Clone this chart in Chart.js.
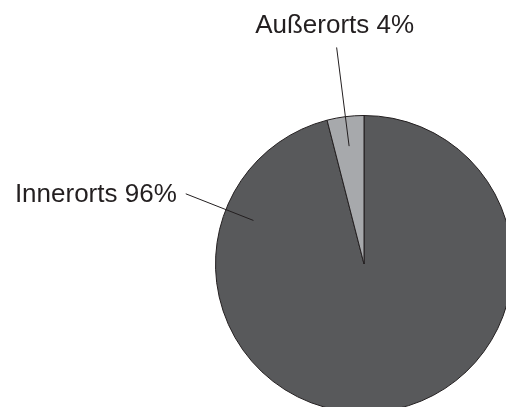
<!DOCTYPE html>
<html>
<head>
<meta charset="utf-8">
<script src="https://cdn.jsdelivr.net/npm/chart.js@4.4.1/dist/chart.umd.min.js"></script>
<style>
  html, body { margin: 0; padding: 0; background: #ffffff; overflow: hidden; }
  #wrap { position: absolute; left: 0; top: 0; width: 540px; height: 440px; }
</style>
</head>
<body>
<div id="wrap"><canvas id="pieChart"></canvas></div>
<script>
const categories = ["Innerorts", "Außerorts"];
const shares = [96, 4];
const sliceColors = ["#58595b", "#a7a9ac"];

// where each leader line sits (angle in degrees, null = middle of slice)
const labelLayout = [
  { angle: 201.5, r0: 0.8, r1: 1.29, align: "right", dx: -9, dy: 8 },
  { angle: null, r0: 0.8, r1: 1.47, align: "center", dx: -2, dy: -14 },
];

const pieLabels = {
  id: "pieLabels",
  afterDatasetsDraw(chart) {
    const ctx = chart.ctx;
    const meta = chart.getDatasetMeta(0);
    ctx.save();
    ctx.strokeStyle = "#231f20";
    ctx.lineWidth = 1;
    ctx.fillStyle = "#231f20";
    ctx.font = '26px "Liberation Sans", Arial, sans-serif';
    meta.data.forEach((arc, i) => {
      const { x, y, outerRadius, startAngle, endAngle } = arc.getProps(
        ["x", "y", "outerRadius", "startAngle", "endAngle"],
        true
      );
      const lay = labelLayout[i];
      const ang =
        lay.angle !== null ? (lay.angle * Math.PI) / 180 : (startAngle + endAngle) / 2;
      const x0 = x + Math.cos(ang) * outerRadius * lay.r0;
      const y0 = y + Math.sin(ang) * outerRadius * lay.r0;
      const x1 = x + Math.cos(ang) * outerRadius * lay.r1;
      const y1 = y + Math.sin(ang) * outerRadius * lay.r1;
      ctx.beginPath();
      ctx.moveTo(x0, y0);
      ctx.lineTo(x1, y1);
      ctx.stroke();
      ctx.textAlign = lay.align;
      ctx.textBaseline = "alphabetic";
      ctx.fillText(categories[i] + " " + shares[i] + "%", x1 + lay.dx, y1 + lay.dy);
    });
    ctx.restore();
  },
};

new Chart(document.getElementById("pieChart"), {
  type: "pie",
  data: {
    labels: categories,
    datasets: [
      {
        data: shares,
        backgroundColor: sliceColors,
        borderColor: "#231f20",
        borderWidth: 1,
      },
    ],
  },
  options: {
    responsive: true,
    maintainAspectRatio: false,
    animation: false,
    layout: { padding: { left: 215, top: 115, right: 27, bottom: 27 } },
    plugins: {
      legend: { display: false },
      tooltip: { enabled: false },
    },
  },
  plugins: [pieLabels],
});
</script>
</body>
</html>
